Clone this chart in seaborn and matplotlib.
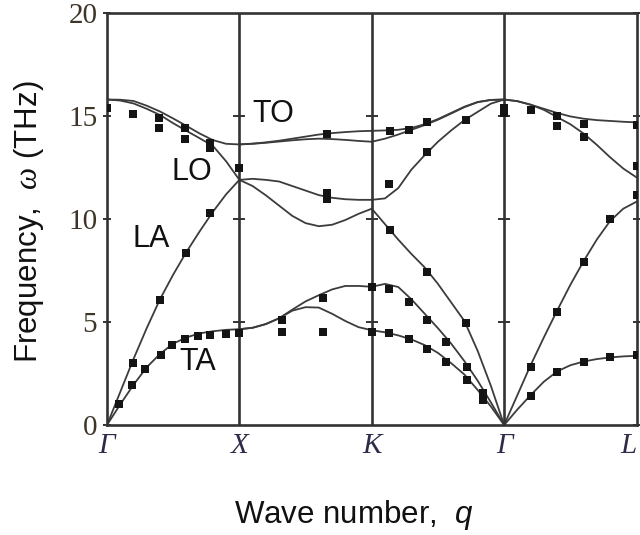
import numpy as np
import pandas as pd
import matplotlib
matplotlib.use("Agg")
import matplotlib.pyplot as plt
import seaborn as sns

# High-symmetry path (each segment drawn with equal length)
sym_labels = ["\u0393", "X", "K", "\u0393", "L"]
sym_pos = [0, 1, 2, 3, 4]
y_ticks = [0, 5, 10, 15, 20]

# Path coordinate samples inside each segment
q_gx = [0.0, 0.1, 0.2, 0.3, 0.4, 0.5, 0.6, 0.7, 0.8, 0.9, 1.0]
q_xk = [1.0, 1.1, 1.2, 1.3, 1.4, 1.5, 1.6, 1.7, 1.8, 1.9, 2.0]
q_kg = [2.0, 2.1, 2.2, 2.3, 2.4, 2.5, 2.6, 2.7, 2.8, 2.9, 3.0]
q_gl = [3.0, 3.1, 3.2, 3.3, 3.4, 3.5, 3.6, 3.7, 3.8, 3.9, 4.0]

# Calculated dispersion branches (THz)
to_gx = [15.8, 15.79, 15.73, 15.5, 15.22, 14.88, 14.52, 14.15, 13.83, 13.65, 13.62]
lo_gx = [15.8, 15.75, 15.61, 15.35, 15.05, 14.65, 14.28, 13.92, 13.55, 12.8, 11.9]
la_gx = [0.0, 1.6, 3.2, 4.7, 6.1, 7.3, 8.4, 9.4, 10.35, 11.2, 11.9]
ta_gx = [0.0, 1.0, 1.95, 2.8, 3.45, 3.95, 4.25, 4.45, 4.55, 4.62, 4.65]

to1_xk = [13.62, 13.66, 13.72, 13.8, 13.9, 14.0, 14.1, 14.17, 14.22, 14.26, 14.28]
to2_xk = [13.62, 13.65, 13.7, 13.76, 13.82, 13.87, 13.9, 13.88, 13.84, 13.79, 13.75]
o1_xk = [11.9, 11.95, 11.9, 11.82, 11.6, 11.38, 11.16, 11.03, 10.96, 10.93, 10.93]
o2_xk = [11.9, 11.6, 11.15, 10.65, 10.15, 9.8, 9.65, 9.72, 9.95, 10.25, 10.5]
a1_xk = [4.65, 4.72, 4.9, 5.18, 5.6, 6.0, 6.3, 6.58, 6.75, 6.75, 6.71]
a2_xk = [4.65, 4.72, 4.9, 5.18, 5.55, 5.72, 5.7, 5.4, 5.05, 4.75, 4.6]

to1_kg = [14.28, 14.3, 14.33, 14.42, 14.6, 14.85, 15.15, 15.45, 15.68, 15.78, 15.8]
to2_kg = [13.75, 13.9, 14.1, 14.33, 14.56, 14.82, 15.12, 15.43, 15.67, 15.78, 15.8]
lo_kg = [10.93, 11.0, 11.5, 12.4, 13.1, 13.75, 14.3, 14.8, 15.2, 15.6, 15.8]
la_kg = [10.5, 9.75, 9.0, 8.3, 7.65, 6.85, 5.95, 5.05, 3.6, 1.9, 0.0]
a1_kg = [6.71, 6.85, 6.7, 6.1, 5.4, 4.7, 3.95, 3.1, 2.15, 1.1, 0.0]
a2_kg = [4.6, 4.5, 4.35, 4.15, 3.88, 3.5, 3.0, 2.45, 1.7, 0.9, 0.0]

to_gl = [15.8, 15.72, 15.55, 15.35, 15.15, 14.98, 14.87, 14.8, 14.76, 14.72, 14.69]
lo_gl = [15.8, 15.72, 15.55, 15.3, 14.95, 14.6, 14.15, 13.6, 13.0, 12.45, 12.02]
la_gl = [0.0, 1.45, 2.9, 4.25, 5.55, 6.8, 7.95, 9.0, 9.9, 10.5, 10.84]
ta_gl = [0.0, 0.75, 1.45, 2.1, 2.6, 2.9, 3.08, 3.2, 3.28, 3.33, 3.36]

branches = {
    "TO_GX": (q_gx, to_gx), "LO_GX": (q_gx, lo_gx),
    "LA_GX": (q_gx, la_gx), "TA_GX": (q_gx, ta_gx),
    "TO1_XK": (q_xk, to1_xk), "TO2_XK": (q_xk, to2_xk),
    "O1_XK": (q_xk, o1_xk), "O2_XK": (q_xk, o2_xk),
    "A1_XK": (q_xk, a1_xk), "A2_XK": (q_xk, a2_xk),
    "TO1_KG": (q_kg, to1_kg), "TO2_KG": (q_kg, to2_kg),
    "LO_KG": (q_kg, lo_kg), "LA_KG": (q_kg, la_kg),
    "A1_KG": (q_kg, a1_kg), "A2_KG": (q_kg, a2_kg),
    "TO_GL": (q_gl, to_gl), "LO_GL": (q_gl, lo_gl),
    "LA_GL": (q_gl, la_gl), "TA_GL": (q_gl, ta_gl),
}

# Measured (neutron scattering) points
meas_q = [0.0, 0.2, 0.39, 0.39, 0.59, 0.59, 0.78, 0.78, 1.0,
          0.09, 0.195, 0.4, 0.6, 0.78,
          0.19, 0.29, 0.41, 0.49, 0.59, 0.69, 0.78, 0.9, 1.0,
          1.66, 1.66, 1.66, 1.32, 1.32, 1.63, 1.63, 2.0, 2.0,
          2.135, 2.28, 2.42, 2.71, 3.0, 3.0,
          2.13, 2.42,
          2.135, 2.42, 2.71,
          2.13, 2.28, 2.42, 2.56, 2.72, 2.84,
          2.13, 2.28, 2.42, 2.56, 2.72, 2.84,
          3.2, 3.4, 3.4, 3.6, 3.6, 4.0, 4.0,
          4.0, 3.8, 3.6, 3.4, 3.2,
          3.2, 3.4, 3.6, 3.8, 4.0]
meas_f = [15.37, 15.08, 14.9, 14.4, 14.4, 13.9, 13.67, 13.43, 12.49,
          1.02, 3.02, 6.07, 8.35, 10.3,
          1.94, 2.7, 3.4, 3.88, 4.17, 4.32, 4.38, 4.42, 4.48,
          14.13, 11.26, 10.97, 5.1, 4.53, 6.15, 4.5, 6.71, 4.53,
          14.29, 14.32, 14.72, 14.8, 15.4, 15.15,
          11.68, 13.27,
          9.47, 7.44, 4.97,
          6.59, 5.96, 5.1, 4.05, 2.83, 1.55,
          4.45, 4.16, 3.69, 3.04, 2.18, 1.2,
          15.29, 15.0, 14.51, 14.61, 14.0, 14.56, 12.57,
          11.17, 9.98, 7.93, 5.5, 2.83,
          1.42, 2.59, 3.07, 3.28, 3.4]

# Mode labels
mode_names = ["TO", "LO", "LA", "TA"]
mode_q = [1.26, 0.64, 0.335, 0.685]
mode_f = [15.12, 12.3, 9.05, 3.05]

line_df = pd.concat(
    [pd.DataFrame({"q": q, "freq": f, "branch": name})
     for name, (q, f) in branches.items()],
    ignore_index=True,
)
meas_df = pd.DataFrame({"q": meas_q, "freq": meas_f})

sns.set_style("ticks")
plt.rcParams["font.family"] = ["Liberation Sans", "DejaVu Sans"]
plt.rcParams["mathtext.fontset"] = "custom"
plt.rcParams["mathtext.rm"] = "Liberation Sans"
plt.rcParams["mathtext.it"] = "Liberation Serif:italic"
plt.rcParams["mathtext.sf"] = "Liberation Sans:italic"

frame_color = "#333333"
fig = plt.figure(figsize=(6.4, 5.35), dpi=100)
ax = fig.add_axes([107 / 640, 110 / 535, 529.5 / 640, 412 / 535])

sns.lineplot(data=line_df, x="q", y="freq", units="branch", estimator=None,
             sort=False, color="#3c3c3c", linewidth=1.3, ax=ax, legend=False)
sns.scatterplot(data=meas_df, x="q", y="freq", marker="s", s=34,
                color="#141414", linewidth=0, ax=ax, zorder=4, legend=False)

# Vertical lines at the interior symmetry points, with small tick marks
for xp in sym_pos[1:-1]:
    ax.axvline(xp, color=frame_color, linewidth=1.9, zorder=2)
    ax.plot([xp] * 3, y_ticks[1:4], linestyle="none", marker="_",
            markersize=8, markeredgewidth=1.4, color=frame_color, zorder=2)

ax.set_xlim(sym_pos[0], sym_pos[-1])
ax.set_ylim(y_ticks[0], y_ticks[-1])

ax.set_xticks(sym_pos)
ax.set_xticklabels(sym_labels, family="Liberation Serif", style="italic",
                   fontsize=21, color="#2c2c48")
ax.set_yticks(y_ticks)
ax.set_yticklabels([str(v) for v in y_ticks], family="Liberation Serif",
                   fontsize=21, color="#3d3527")
ax.tick_params(axis="x", length=0, pad=6)
ax.tick_params(axis="y", direction="inout", length=6, width=1.4,
               color=frame_color, pad=4, right=True)
# keep the last path label inside the canvas
ax.get_xticklabels()[-1].set_horizontalalignment("right")

for sp in ax.spines.values():
    sp.set_visible(True)
    sp.set_color(frame_color)
    sp.set_linewidth(1.9)

for name, xq, yf in zip(mode_names, mode_q, mode_f):
    ax.text(xq, yf, name, fontsize=22, ha="center", va="center",
            color="#111111", zorder=5)

ax.set_xlabel(r"Wave number,  $\mathsf{q}$", fontsize=22.5, color="#111111",
              va="baseline")
ax.xaxis.set_label_coords(0.466, -0.238)
ax.set_ylabel(r"Frequency,  $\mathit{\omega}$ (THz)", fontsize=22.5,
              color="#111111", va="baseline")
ax.yaxis.set_label_coords(-0.132, 0.493)

fig.savefig("out.png", dpi=100)
